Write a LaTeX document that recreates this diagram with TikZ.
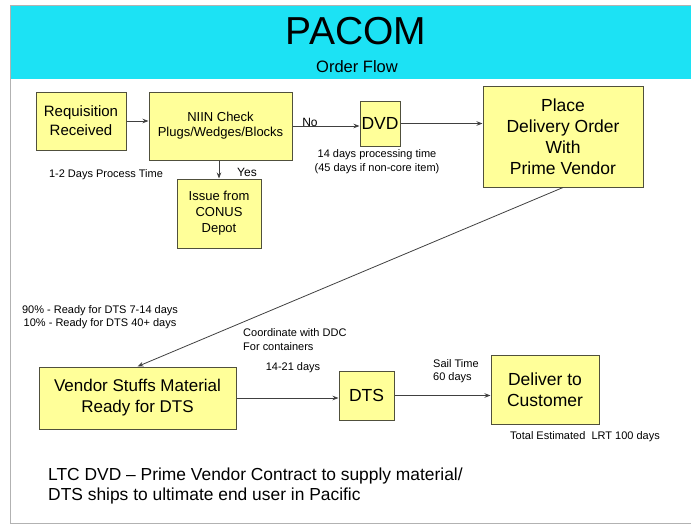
\documentclass[tikz,border=0pt]{standalone}
\usepackage{fontspec}
\setmainfont{Liberation Sans}
\usetikzlibrary{arrows.meta}
\definecolor{headcyan}{RGB}{28,226,244}
\definecolor{boxyellow}{RGB}{255,255,153}
\definecolor{boxedge}{RGB}{80,80,60}
\tikzset{
  ybox/.style={draw=boxedge, line width=1pt, fill=boxyellow, align=center, inner sep=0pt},
  arr/.style={draw=black!75, line width=0.8pt, -{Stealth[length=6pt,width=4.5pt]}},
  lbl/.style={inner sep=0pt, align=center, font=\fontsize{11}{14}\selectfont}
}
\begin{document}
\begin{tikzpicture}[x=1pt, y=-1pt]
  \useasboundingbox (0,0) rectangle (691,525);

  % slide and header
  \fill[headcyan] (10,5) rectangle (691,79);
  \draw[gray!60] (691,5) -- (10,5) -- (10,523) -- (691,523);
  \node (title) at (356,31) {\fontsize{39}{39}\selectfont PACOM};
  \node (subtitle) at (357,67) {\fontsize{16.5}{16.5}\selectfont Order Flow};

  % top row
  \node[ybox, minimum width=90, minimum height=58, font=\fontsize{15}{19}\selectfont] (req) at (81,121) {Requisition\\Received};
  \node[ybox, minimum width=143, minimum height=68, font=\fontsize{13}{15}\selectfont] (niin) at (220.5,126) {NIIN Check\\Plugs/Wedges/Blocks};
  \node[ybox, minimum width=84, minimum height=69, font=\fontsize{13}{16}\selectfont] (issue) at (219,213.5) {Issue from\\CONUS\\Depot};
  \node[ybox, minimum width=40, minimum height=45, font=\fontsize{17.5}{21}\selectfont] (dvd) at (380,123.5) {DVD};
  \node[ybox, minimum width=160, minimum height=101, font=\fontsize{17.5}{21}\selectfont] (place) at (563,136.5) {Place\\Delivery Order\\With\\Prime Vendor};

  % bottom row
  \node[ybox, minimum width=197, minimum height=62, font=\fontsize{17}{21}\selectfont] (vendor) at (137.5,398) {Vendor Stuffs Material\\Ready for DTS};
  \node[ybox, minimum width=55, minimum height=49, font=\fontsize{17.5}{21}\selectfont] (dts) at (366.5,395.5) {DTS};
  \node[ybox, minimum width=108, minimum height=69, font=\fontsize{17.5}{21}\selectfont] (deliver) at (545,389.5) {Deliver to\\Customer};

  % flow
  \draw[arr] (req.east) -- (req.east -| niin.west);
  \draw[arr] (niin.east) -- (niin.east -| dvd.west);
  \draw[arr] (issue.north |- niin.south) -- (issue.north);
  \draw[arr] (dvd.east) -- (dvd.east -| place.west);
  \draw[arr] (place.south) -- (vendor.north);
  \draw[arr] (vendor.east) -- (vendor.east -| dts.west);
  \draw[arr] (dts.east) -- (dts.east -| deliver.west);

  % labels
  \node[lbl, font=\fontsize{12}{14}\selectfont] (no) at (310,122) {No};
  \node[lbl, font=\fontsize{12}{14}\selectfont] (yes) at (247,172) {Yes};
  \node[lbl] (proc) at (106,175) {1-2 Days Process Time};
  \node[lbl] (dvdtime) at (377,162) {14 days processing time\\(45 days if non-core item)};
  \node[lbl, font=\fontsize{11}{12.5}\selectfont] (ready) at (100,317) {90\% - Ready for DTS 7-14 days\\10\% - Ready for DTS 40+ days};
  \node[lbl, align=left, anchor=west] (ddc) at (243,340) {Coordinate with DDC\\For containers};
  \node[lbl] (transit) at (293,368) {14-21 days};
  \node[lbl, align=left, anchor=west, font=\fontsize{11}{13}\selectfont] (sail) at (433,371.5) {Sail Time\\60 days};
  \node[lbl] (lrt) at (585,437) {Total Estimated\ \ LRT 100 days};

  % note
  \node[anchor=west, align=left, inner sep=0pt, font=\fontsize{17.4}{20}\selectfont] (note) at (48,486) {LTC DVD – Prime Vendor Contract to supply material/\\DTS ships to ultimate end user in Pacific};
\end{tikzpicture}
\end{document}
